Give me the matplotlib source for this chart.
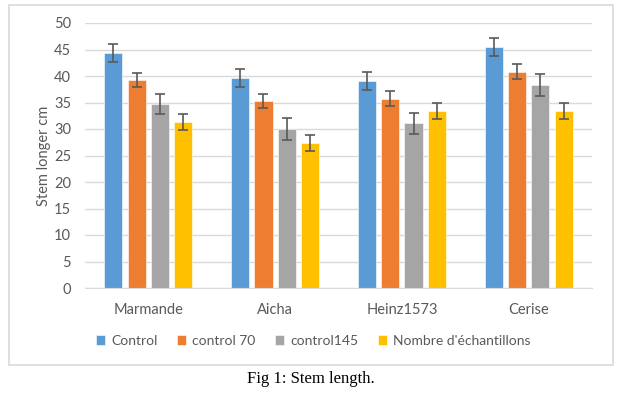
import numpy as np
import matplotlib
matplotlib.use("Agg")
import matplotlib.pyplot as plt
from matplotlib.patches import Rectangle

varieties = ["Marmande", "Aicha", "Heinz1573", "Cerise"]
series = ["Control", "control 70", "control145", "Nombre d'échantillons"]
control = [44.4, 39.6, 39.1, 45.5]
control70 = [39.2, 35.3, 35.7, 40.8]
control145 = [34.7, 30.0, 31.1, 38.3]
nombre = [31.3, 27.3, 33.4, 33.4]
err_control = [1.7, 1.7, 1.7, 1.65]
err_control70 = [1.3, 1.35, 1.4, 1.4]
err_control145 = [1.9, 2.0, 2.0, 2.0]
err_nombre = [1.5, 1.5, 1.45, 1.5]

colors = ["#5B9BD5", "#ED7D31", "#A5A5A5", "#FFC000"]
plt.rcParams["font.family"] = ["Lato", "DejaVu Sans"]

fig = plt.figure(figsize=(6.23, 3.93), dpi=100)
ax = fig.add_axes([85/623, 1-288/393, 507/623, 265/393])

x = np.arange(len(varieties))
w, step = 0.143, 0.184
vals = [control, control70, control145, nombre]
errs = [err_control, err_control70, err_control145, err_nombre]
for i, (v, e, c, lab) in enumerate(zip(vals, errs, colors, series)):
    ax.bar(x + (i - 1.5)*step, v, w, color=c, label=lab, zorder=2,
           edgecolor="white", linewidth=0.4)
    ax.errorbar(x + (i - 1.5)*step, v, yerr=e, fmt="none", ecolor="#595959",
                elinewidth=1.2, capsize=3.5, capthick=1.2, zorder=3)

ax.set_xlim(-0.5, 3.5); ax.set_ylim(0, 50)
ax.set_yticks(range(0, 51, 5))
ax.yaxis.grid(True, color="#D9D9D9", lw=1, zorder=0)
ax.set_xticks(x); ax.set_xticklabels(varieties)
for s in ["top", "right", "left"]:
    ax.spines[s].set_visible(False)
ax.spines["bottom"].set_color("#D9D9D9")
ax.tick_params(length=0, labelsize=10.5, colors="#595959", pad=10)
ax.tick_params(axis="x", pad=11)
ax.set_ylabel("Stem longer cm", fontsize=10.5, color="#595959", labelpad=2)

fig.legend(loc="center", bbox_to_anchor=(313/623, 1-341/393), ncol=4, frameon=False,
           fontsize=10, handlelength=0.7, handleheight=0.7, handletextpad=0.4,
           columnspacing=1.4, labelcolor="#595959")

fig.patches.append(Rectangle((9/623, 1-365/393), 604/623, 360/393, transform=fig.transFigure,
                             fill=False, edgecolor="#D9D9D9", lw=1.2))
fig.text(311/623, 1-379/393, "Fig 1: Stem length.", ha="center", va="center",
         family=["Liberation Serif"], fontsize=12, color="black")

fig.savefig("out.png", dpi=100)
